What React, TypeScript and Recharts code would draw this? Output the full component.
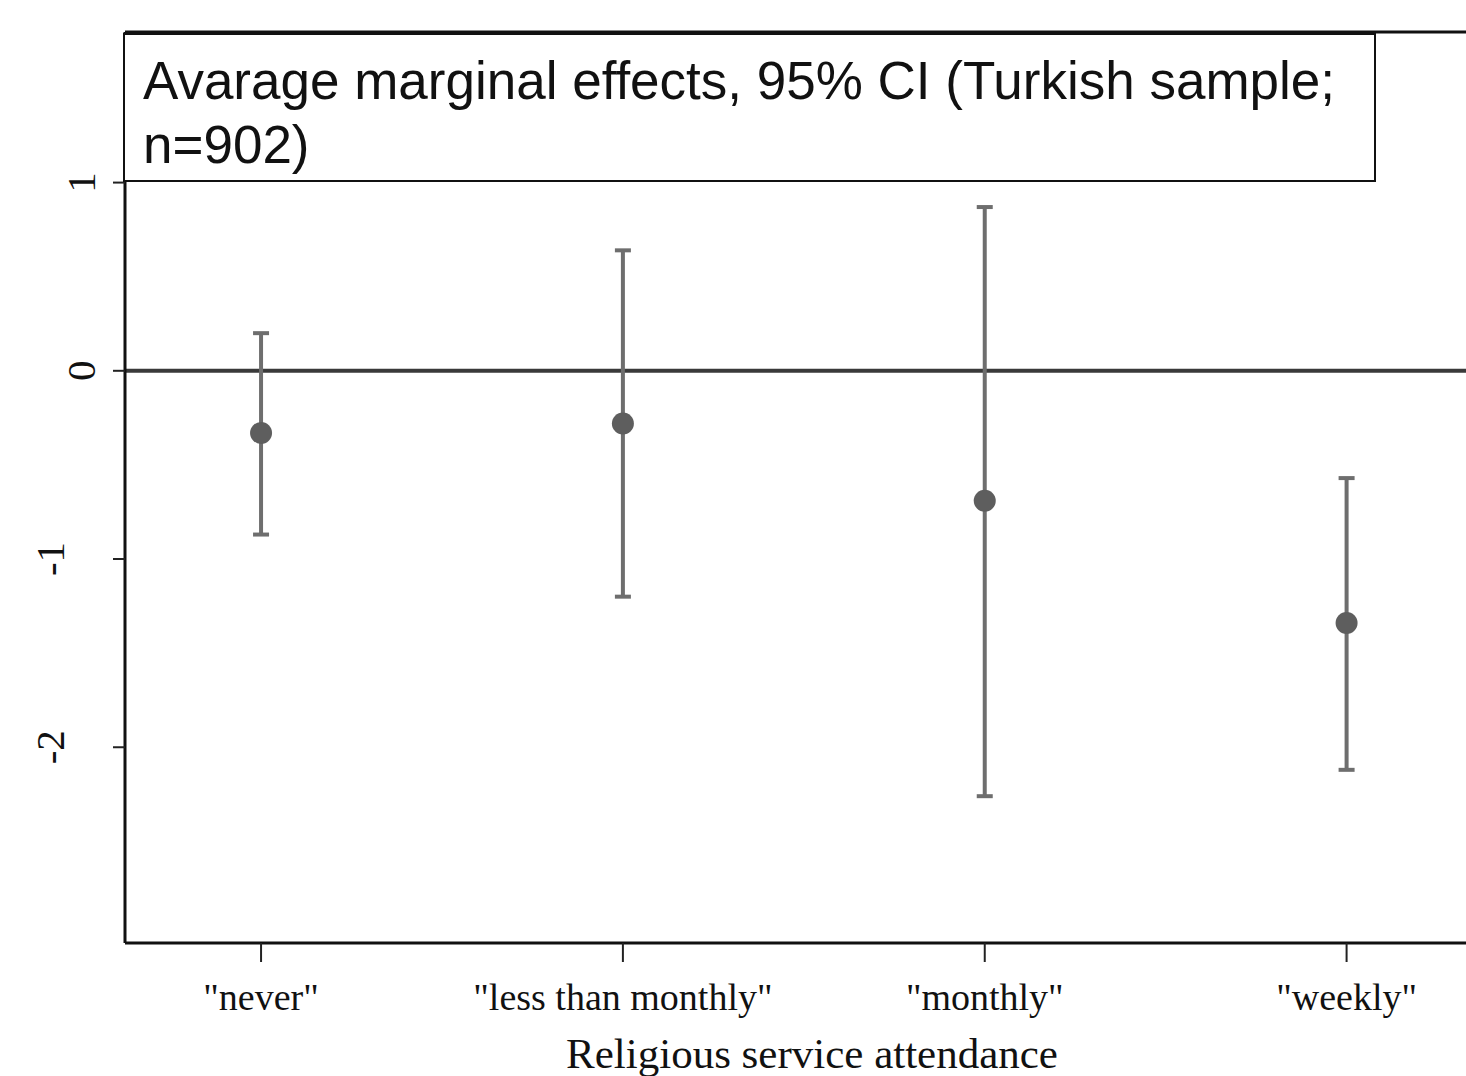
import { ComposedChart, Scatter, ErrorBar, XAxis, YAxis, ReferenceLine } from 'recharts';

const categories = ['"never"', '"less than monthly"', '"monthly"', '"weekly"'];
const effects = [-0.33, -0.28, -0.69, -1.34];
const ciLow = [-0.87, -1.2, -2.26, -2.12];
const ciHigh = [0.2, 0.64, 0.87, -0.57];
const yTicks = [-2, -1, 0, 1];
const xTicks = [1, 2, 3, 4];

const points = categories.map((name, i) => ({
  x: i + 1,
  name,
  y: effects[i],
  ci: [effects[i] - ciLow[i], ciHigh[i] - effects[i]],
}));

const serif = '"Liberation Serif", "Times New Roman", serif';
const sans = '"Liberation Sans", Arial, sans-serif';

// rotated labels; the negative ones sit further out, as in the original
function YTick({ x, y, payload }: any) {
  const bx = payload.value < 0 ? x - 31 : x;
  return (
    <text
      x={bx}
      y={y}
      transform={`rotate(-90 ${bx} ${y})`}
      textAnchor="middle"
      fontFamily={serif}
      fontSize={41}
      fill="#111"
    >
      {payload.value}
    </text>
  );
}

function XTick({ x, y, payload }: any) {
  return (
    <text x={x} y={y + 48} textAnchor="middle" fontFamily={serif} fontSize={38} fill="#111">
      {categories[payload.value - 1]}
    </text>
  );
}

function Dot({ cx, cy }: any) {
  return <circle cx={cx} cy={cy} r={11} fill="#5e5e5e" />;
}

export default function App() {
  return (
    <div style={{ position: 'absolute', left: 0, top: 0, width: 1466, height: 1076, background: '#fff' }}>
      <ComposedChart
        width={1466}
        height={1076}
        data={points}
        margin={{ top: 32, right: 0, bottom: 0, left: 0 }}
      >
        <XAxis
          type="number"
          dataKey="x"
          domain={[0.624, 4.33]}
          ticks={xTicks}
          allowDataOverflow
          height={133}
          tickSize={19}
          tickMargin={0}
          tick={<XTick />}
          axisLine={{ stroke: '#111', strokeWidth: 3 }}
          tickLine={{ stroke: '#222', strokeWidth: 2 }}
          label={{
            content: () => (
              <text x={812} y={1068} textAnchor="middle" fontFamily={serif} fontSize={43} fill="#111">
                Religious service attendance
              </text>
            ),
          }}
        />
        <YAxis
          type="number"
          domain={[-3.04, 1.8]}
          ticks={yTicks}
          allowDataOverflow
          width={125}
          tickSize={12}
          tickMargin={18}
          tick={<YTick />}
          axisLine={{ stroke: '#111', strokeWidth: 3 }}
          tickLine={{ stroke: '#222', strokeWidth: 2 }}
        />
        <ReferenceLine y={1.8} stroke="#111" strokeWidth={3} ifOverflow="visible" />
        <ReferenceLine y={0} stroke="#3a3a3a" strokeWidth={4} />
        <Scatter dataKey="y" shape={<Dot />} isAnimationActive={false}>
          <ErrorBar dataKey="ci" direction="y" width={8} stroke="#6e6e6e" strokeWidth={4} isAnimationActive={false} />
        </Scatter>
      </ComposedChart>
      <div
        style={{
          position: 'absolute',
          left: 123,
          top: 33,
          width: 1253,
          height: 149,
          boxSizing: 'border-box',
          border: '2px solid #111',
          background: '#fff',
          fontFamily: sans,
          fontSize: 53,
          lineHeight: '64px',
          color: '#111',
          paddingLeft: 18,
          paddingTop: 14,
        }}
      >
        Avarage marginal effects, 95% CI (Turkish sample;
        <br />
        n=902)
      </div>
    </div>
  );
}
